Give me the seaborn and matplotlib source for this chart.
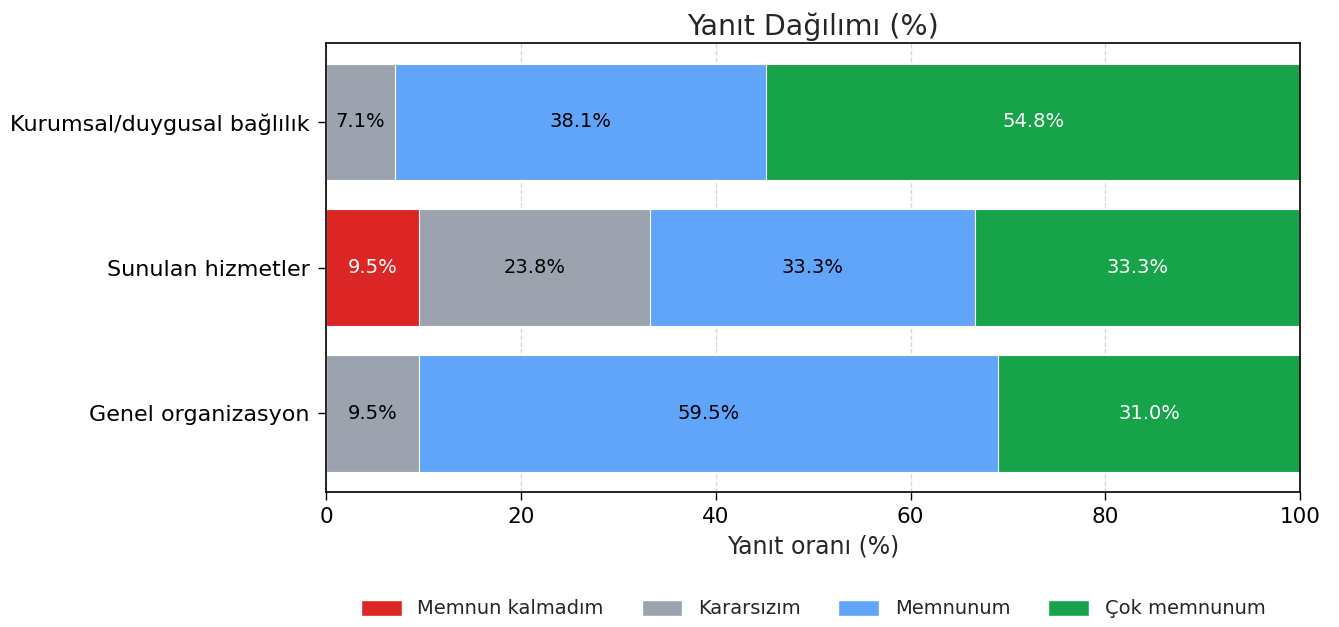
import matplotlib
matplotlib.use("Agg")
import matplotlib.pyplot as plt
import seaborn as sns
import numpy as np
import pandas as pd
from matplotlib.patches import Patch

categories = ["Kurumsal/duygusal bağlılık", "Sunulan hizmetler", "Genel organizasyon"]
levels = ["Memnun kalmadım", "Kararsızım", "Memnunum", "Çok memnunum"]
memnun_kalmadim = [0.0, 9.5, 0.0]
kararsizim = [7.1, 23.8, 9.5]
memnunum = [38.1, 33.3, 59.5]
cok_memnunum = [54.8, 33.3, 31.0]
colors = ["#dc2626", "#9ca3af", "#60a5fa", "#16a34a"]
text_colors = ["white", "black", "black", "white"]

series = [memnun_kalmadim, kararsizim, memnunum, cok_memnunum]

sns.set_style("white")
plt.rcParams['font.family'] = ['DejaVu Sans']

fig = plt.figure(figsize=(13.39, 6.27), dpi=100)
ax = fig.add_axes([0.2435, 0.215, 0.7275, 0.716])

vals = np.array(series)  # shape (4, 3)
cum = np.cumsum(vals, axis=0)
starts = cum - vals

# draw from the largest cumulative to smallest so each layer covers the rest
for i in range(len(levels) - 1, -1, -1):
    df = pd.DataFrame({"cat": categories, "val": cum[i]})
    sns.barplot(data=df, x="val", y="cat", orient="h", color=colors[i],
                saturation=1, width=0.8, edgecolor="white", linewidth=0.8,
                ax=ax, zorder=2)

for i in range(len(levels)):
    for j, c in enumerate(categories):
        v = vals[i, j]
        if v > 0:
            ax.text(starts[i, j] + v / 2, j, f"{v:.1f}%", ha="center", va="center",
                    color=text_colors[i], fontsize=14, zorder=5)

ax.set_xlim(0, 100)
ax.set_ylim(2.54, -0.54)
ax.set_xticks([0, 20, 40, 60, 80, 100])
ax.grid(axis="x", linestyle="--", color="#cccccc", linewidth=0.9, alpha=0.8, zorder=0)
ax.set_axisbelow(True)
for s in ax.spines.values():
    s.set_visible(True)
    s.set_color("black")
    s.set_linewidth(1.2)
ax.tick_params(axis="y", labelsize=16, length=6, width=1, pad=6, direction="out",
               left=True, colors="black")
ax.tick_params(axis="x", labelsize=15.5, length=6, width=1, pad=5, direction="out",
               bottom=True, colors="black")
ax.set_ylabel("")
ax.set_xlabel("Yanıt oranı (%)", fontsize=17, labelpad=5)
ax.set_title("Yanıt Dağılımı (%)", fontsize=20.5, pad=6)

handles = [Patch(facecolor=colors[i], edgecolor="white", label=levels[i]) for i in range(4)]
ax.legend(handles=handles, loc="upper center", bbox_to_anchor=(0.5, -0.2), ncol=4,
          frameon=False, fontsize=14, columnspacing=1.95, handlelength=2.1,
          handleheight=0.9)

fig.savefig("out.png", dpi=100)
